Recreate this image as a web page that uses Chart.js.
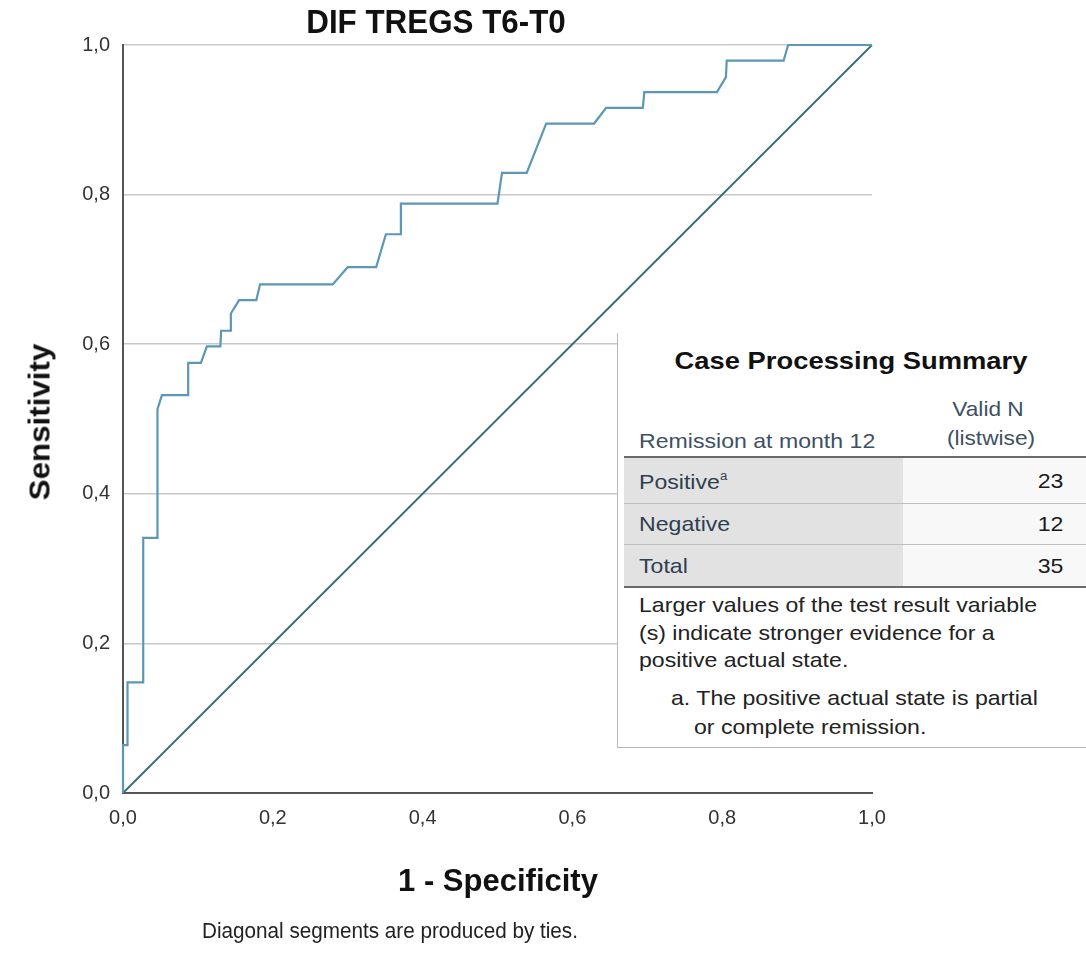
<!DOCTYPE html>
<html><head><meta charset="utf-8">
<script src="https://cdn.jsdelivr.net/npm/chart.js@4.4.1/dist/chart.umd.min.js"></script>
<style>
html,body{margin:0;padding:0;background:#fff;}
#wrap{position:relative;width:1086px;height:953px;overflow:hidden;background:#fff;}
canvas{position:absolute;left:0;top:0;}
.t{position:absolute;white-space:nowrap;line-height:1;}
.bold{font-family:"Liberation Sans",Arial,sans-serif;font-weight:bold;color:#111;}
#box{position:absolute;left:617px;top:333px;width:480px;height:414px;background:#fff;border-left:1px solid #b8b8b8;border-bottom:1px solid #b8b8b8;font-family:"Liberation Sans",Arial,sans-serif;}
#box .t{font-size:21px;}
#box .sl{transform:scaleX(1.1);transform-origin:left center;}
#box .sr{transform:scaleX(1.1);transform-origin:right center;}
#box .sc{transform:translate(-50%,-50%) scaleX(1.08);}
.hdr{color:#3e5063;}
.lab{color:#2e3f50;}
.val{color:#1a1a1a;}
.row{position:absolute;left:6px;width:470px;}
.lc{position:absolute;left:0;top:0;bottom:0;width:279px;background:#e2e2e2;}
.vc{position:absolute;left:279px;top:0;bottom:0;right:0;background:#f8f8f8;}
.hl{position:absolute;left:6px;width:470px;}
</style></head><body>
<div id="wrap">
<canvas id="c" width="1086" height="953"></canvas>
<div class="t bold" style="left:436px;top:21px;font-size:33px;transform:translate(-50%,-50%) scaleX(0.95);">DIF TREGS T6-T0</div>
<div class="t bold" style="left:40px;top:422px;font-size:29px;transform:translate(-50%,-50%) rotate(-90deg) scaleX(1.08);">Sensitivity</div>
<div class="t bold" style="left:498px;top:880px;font-size:31px;transform:translate(-50%,-50%);">1 - Specificity</div>
<div class="t" style="left:390px;top:931px;font-size:22px;font-family:'Liberation Sans',sans-serif;color:#222;transform:translate(-50%,-50%) scaleX(0.94);">Diagonal segments are produced by ties.</div>
<div id="box">
  <div class="t" style="left:233px;top:28px;font-size:24px;font-weight:bold;color:#111;transform:translate(-50%,-50%) scaleX(1.14);">Case Processing Summary</div>
  <div class="t sc hdr" style="left:370px;top:75px;">Valid N</div>
  <div class="t sc hdr" style="left:373px;top:104px;">(listwise)</div>
  <div class="t sl hdr" style="left:21px;top:97px;">Remission at month 12</div>
  <div class="row" style="top:125px;height:46px;"><div class="lc"></div><div class="vc"></div></div>
  <div class="row" style="top:171px;height:41px;"><div class="lc"></div><div class="vc"></div></div>
  <div class="row" style="top:212px;height:42px;"><div class="lc"></div><div class="vc"></div></div>
  <div class="hl" style="top:123px;height:2px;background:#6a6a6a;"></div>
  <div class="hl" style="top:170px;height:1px;background:#bdbdbd;"></div>
  <div class="hl" style="top:211px;height:1px;background:#bdbdbd;"></div>
  <div class="hl" style="top:253px;height:2px;background:#6a6a6a;"></div>
  <div class="t sl lab" style="left:21px;top:137px;">Positive<sup style="font-size:12px;vertical-align:9px;">a</sup></div>
  <div class="t sr val" style="right:35px;top:137px;">23</div>
  <div class="t sl lab" style="left:21px;top:180px;">Negative</div>
  <div class="t sr val" style="right:35px;top:180px;">12</div>
  <div class="t sl lab" style="left:21px;top:222px;">Total</div>
  <div class="t sr val" style="right:35px;top:222px;">35</div>
  <div class="t sl" style="left:21px;top:261px;color:#222;">Larger values of the test result variable</div>
  <div class="t sl" style="left:21px;top:289px;color:#222;">(s) indicate stronger evidence for a</div>
  <div class="t sl" style="left:21px;top:316px;color:#222;">positive actual state.</div>
  <div class="t sl" style="left:53px;top:354px;color:#222;">a. The positive actual state is partial</div>
  <div class="t sl" style="left:76px;top:383px;color:#222;">or complete remission.</div>
</div>
</div>
<script>
// ROC curve coordinates (1 - specificity, sensitivity)
const rocFpr = [0,0,0.006,0.006,0.027,0.027,0.046,0.046,0.052,0.087,0.087,0.104,0.112,0.130,0.131,0.143,0.144,0.155,0.178,0.183,0.280,0.300,0.338,0.351,0.370,0.371,0.500,0.506,0.539,0.565,0.629,0.645,0.694,0.696,0.793,0.805,0.806,0.882,0.888,1];
const rocTpr = [0,0.064,0.064,0.148,0.148,0.341,0.341,0.513,0.532,0.532,0.575,0.575,0.597,0.597,0.618,0.618,0.641,0.659,0.659,0.680,0.680,0.703,0.703,0.747,0.747,0.788,0.788,0.829,0.829,0.895,0.895,0.916,0.916,0.937,0.937,0.957,0.979,0.979,1.0,1];
// Reference (chance) line
const refX = [0,1];
const refY = [0,1];
// Tick labels
const xTickLabels = ['0,0','0,2','0,4','0,6','0,8','1,0'];
const yTickLabels = ['0,0','0,2','0,4','0,6','0,8','1,0'];

const rocData = rocFpr.map((x,i)=>({x:x,y:rocTpr[i]}));
const refData = refX.map((x,i)=>({x:x,y:refY[i]}));

new Chart(document.getElementById('c'), {
  type:'scatter',
  data:{datasets:[
    {data:rocData, showLine:true, borderColor:'#5b98b6', borderWidth:2.2, pointRadius:0, clip:false, tension:0},
    {data:refData, showLine:true, borderColor:'#3b6b6e', borderWidth:1.8, pointRadius:0, clip:false}
  ]},
  options:{
    responsive:false, animation:false,
    layout:{padding:{top:45,left:0,right:214,bottom:0}},
    plugins:{legend:{display:false},tooltip:{enabled:false},title:{display:false}},
    scales:{
      x:{type:'linear',min:0,max:1,
        ticks:{stepSize:0.2,padding:13,color:'#333',font:{family:'Liberation Sans',size:20},
          callback:(v,i)=>xTickLabels[i]},
        grid:{display:false,drawTicks:false},
        border:{display:true,color:'#555',width:2},
        afterFit:(s)=>{s.height=160;}
      },
      y:{type:'linear',min:0,max:1,
        ticks:{stepSize:0.2,padding:13,color:'#333',font:{family:'Liberation Sans',size:20},
          callback:(v,i)=>yTickLabels[i]},
        grid:{color:'#c8c8c8',lineWidth:1.5,drawTicks:false},
        border:{display:true,color:'#555',width:2},
        afterFit:(s)=>{s.width=123;}
      }
    }
  }
});
</script>
</body></html>
